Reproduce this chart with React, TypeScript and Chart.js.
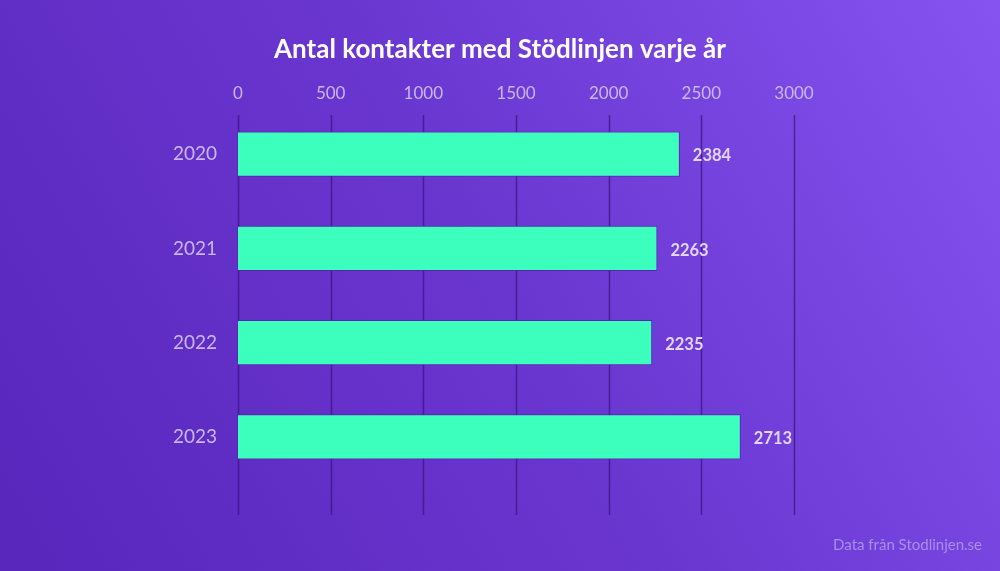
import React, { useEffect, useRef } from "react";
import { Chart, registerables } from "chart.js";

Chart.register(...registerables);

const years = ["2020", "2021", "2022", "2023"];
const contacts = [2384, 2263, 2235, 2713];
const xTicks = [0, 500, 1000, 1500, 2000, 2500, 3000];
const titleText = "Antal kontakter med Stödlinjen varje år";
const sourceText = "Data från Stodlinjen.se";

const FONT = "Lato, 'Noto Sans', sans-serif";

const bgPlugin = {
  id: "bg",
  beforeDraw(chart: any) {
    const { ctx, width, height } = chart;
    const g = ctx.createLinearGradient(0, height, width, 0);
    g.addColorStop(0, "#5826bb");
    g.addColorStop(0.5, "#6a36d0");
    g.addColorStop(1, "#8653f1");
    ctx.save();
    ctx.fillStyle = g;
    ctx.fillRect(0, 0, width, height);
    ctx.restore();
  },
};

const titlePlugin = {
  id: "customTitle",
  afterDraw(chart: any) {
    const { ctx, width } = chart;
    ctx.save();
    ctx.font = `bold 26px ${FONT}`;
    ctx.fillStyle = "#ffffff";
    ctx.textAlign = "center";
    ctx.textBaseline = "middle";
    ctx.fillText(titleText, width / 2, 50);
    ctx.restore();
  },
};

const gridPlugin = {
  id: "customGrid",
  beforeDatasetsDraw(chart: any) {
    const { ctx, chartArea } = chart;
    const x = chart.scales.x;
    ctx.save();
    ctx.strokeStyle = "rgba(60,20,130,0.75)";
    ctx.lineWidth = 1.5;
    xTicks.forEach((v) => {
      const px = Math.round(x.getPixelForValue(v)) + 0.5;
      ctx.beginPath();
      ctx.moveTo(px, chartArea.top + 8);
      ctx.lineTo(px, chartArea.bottom + 31);
      ctx.stroke();
    });
    ctx.restore();
  },
};

const labelPlugin = {
  id: "valueLabels",
  afterDatasetsDraw(chart: any) {
    const { ctx } = chart;
    const meta = chart.getDatasetMeta(0);
    ctx.save();
    ctx.font = `bold 16.5px ${FONT}`;
    ctx.fillStyle = "#e2d6fa";
    ctx.textAlign = "left";
    ctx.textBaseline = "middle";
    meta.data.forEach((bar: any, i: number) => {
      ctx.fillText(String(contacts[i]), bar.x + 13, bar.y + 2);
    });
    ctx.restore();
  },
};

const sourcePlugin = {
  id: "source",
  afterDraw(chart: any) {
    const { ctx, width, height } = chart;
    ctx.save();
    ctx.font = `15px ${FONT}`;
    ctx.fillStyle = "#a98ee9";
    ctx.textAlign = "right";
    ctx.textBaseline = "middle";
    ctx.fillText(sourceText, width - 18, height - 26);
    ctx.restore();
  },
};

export default function App() {
  const ref = useRef<HTMLCanvasElement | null>(null);

  useEffect(() => {
    document.body.style.margin = "0";
    const canvas = ref.current;
    if (!canvas) return;
    const chart = new Chart(canvas, {
      type: "bar",
      data: {
        labels: years,
        datasets: [
          {
            data: contacts,
            backgroundColor: "#3dffbd",
            borderColor: "#5426ad",
            borderWidth: 1,
            barPercentage: 0.48,
            categoryPercentage: 1,
          },
        ],
      },
      options: {
        indexAxis: "y",
        animation: false,
        responsive: false,
        maintainAspectRatio: false,
        devicePixelRatio: 1,
        layout: { padding: { top: 77, left: 0, right: 206, bottom: 87 } },
        plugins: {
          legend: { display: false },
          tooltip: { enabled: false },
          title: { display: false },
        },
        scales: {
          x: {
            position: "top",
            min: 0,
            max: 3000,
            border: { display: false },
            grid: { display: false, drawTicks: false },
            ticks: {
              stepSize: 500,
              color: "#c9b7f2",
              font: { family: FONT, size: 17 },
              padding: 3,
              callback: (v: any) => String(v),
            },
            afterFit: (scale: any) => {
              scale.height = 30;
            },
          },
          y: {
            border: { display: false },
            grid: { display: false, drawTicks: false },
            ticks: {
              color: "#c9b7f2",
              font: { family: FONT, size: 19 },
              padding: 21,
            },
            afterFit: (scale: any) => {
              scale.width = 238;
            },
          },
        },
      },
      plugins: [bgPlugin, gridPlugin, labelPlugin, sourcePlugin, titlePlugin],
    } as any);
    return () => chart.destroy();
  }, []);

  return (
    <div style={{ width: 1000, height: 571 }}>
      <canvas ref={ref} width={1000} height={571} style={{ display: "block" }} />
    </div>
  );
}
